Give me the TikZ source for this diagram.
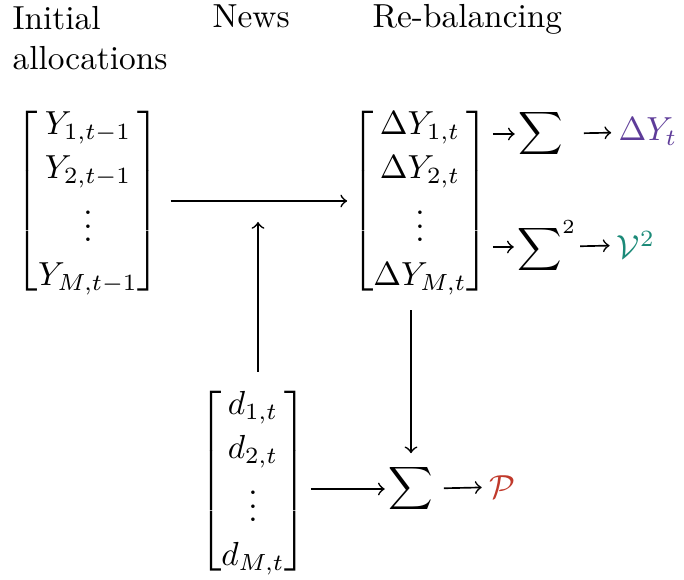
\documentclass[tikz,border=0pt]{standalone}
\usepackage{amsmath,amssymb}
\usepackage{tikz}
\usepackage{xcolor}

\definecolor{sumpurple}{RGB}{94,60,153}
\definecolor{sumteal}{RGB}{27,138,120}
\definecolor{sumred}{RGB}{192,57,43}
\renewcommand{\arraystretch}{1.1}

\begin{document}
\begin{tikzpicture}[x=0.3pt,y=-0.3pt,every node/.style={font=\normalsize},
  arr/.style={->,line width=0.5pt},
  vec/.style={inner xsep=1pt},
  sumbox/.style={inner xsep=1pt,font=\small},
  outbox/.style={inner xsep=2pt},
  head/.style={inner sep=0pt,align=left}]
\useasboundingbox (0,0) rectangle (684,580);
% column heads
\node[head,anchor=north west] (hinit) at (12,6) {Initial\\allocations};
\node[head,anchor=base west] (hnews) at (212,28) {News};
\node[head,anchor=base west] (hreb) at (372,28) {Re-balancing};
% vectors
\node[vec] (yinit) at (88,201) {$\begin{bmatrix} Y_{1,t-1}\\ Y_{2,t-1}\\ \vdots\\ Y_{M,t-1}\end{bmatrix}$};
\node[vec] (ydelta) at (420,201) {$\begin{bmatrix} \Delta Y_{1,t}\\ \Delta Y_{2,t}\\ \vdots\\ \Delta Y_{M,t}\end{bmatrix}$};
\node[vec] (news) at (253,481) {$\begin{bmatrix} d_{1,t}\\ d_{2,t}\\ \vdots\\ d_{M,t}\end{bmatrix}$};
% sums and outputs
\node[sumbox] (sum1) at (541,134) {$\displaystyle\sum$};
\node[sumbox] (sum2) at (547,247) {$\displaystyle\sum\nolimits^2$};
\node[sumbox] (sumP) at (411,489) {$\displaystyle\sum$};
\node[outbox,text=sumpurple] (dY) at (648,132) {$\Delta Y_t$};
\node[outbox,text=sumteal] (V) at (636,245) {$\mathcal{V}^2$};
\node[outbox,text=sumred] (P) at (502,487) {$\mathcal{P}$};
\coordinate (join) at (258,202);
% connectors
\draw[arr,shorten <=2pt] (yinit) -- (ydelta);
\draw[arr,shorten >=6pt] (news.north -| join) -- (join);
\draw[arr] (ydelta.south -| sumP) -- (sumP);
\draw[arr] (news.east |- sumP) -- (sumP);
\draw[arr,shorten <=2pt] (sumP) -- (P);
\draw[arr] (ydelta.east |- sum1) -- (sum1);
\draw[arr] (ydelta.east |- sum2) -- (sum2);
\draw[arr,shorten <=5pt] (sum1) -- (dY);
\draw[arr] (sum2) -- (V);
\end{tikzpicture}
\end{document}
